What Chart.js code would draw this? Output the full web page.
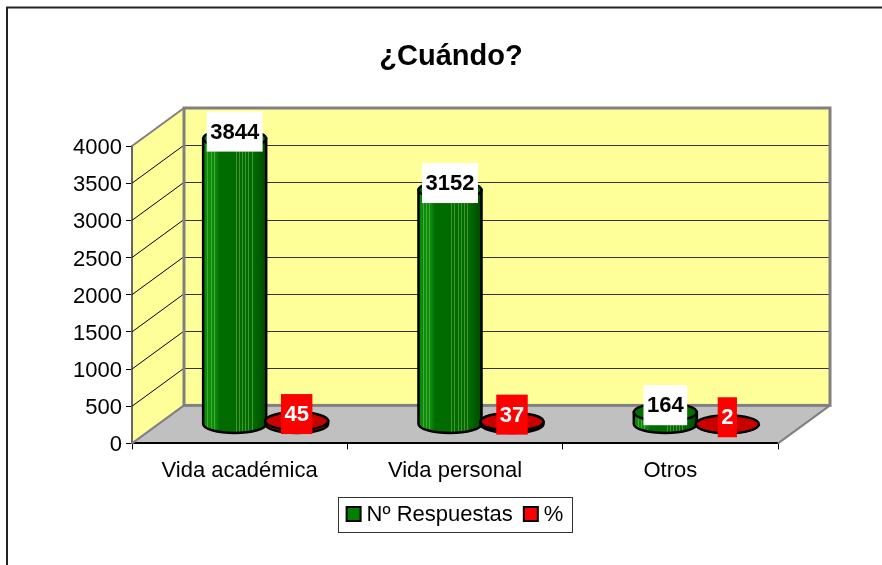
<!DOCTYPE html>
<html>
<head>
<meta charset="utf-8">
<style>
  html, body { margin: 0; padding: 0; background: #fff; overflow: hidden; }
  canvas { display: block; }
</style>
<script src="https://cdn.jsdelivr.net/npm/chart.js@4"></script>
</head>
<body>
<canvas id="myChart" width="882" height="565"></canvas>
<script>
var categories = ['Vida académica', 'Vida personal', 'Otros'];
var respuestas = [3844, 3152, 164];
var porcentajes = [45, 37, 2];
var seriesNames = ['Nº Respuestas', '%'];

var fontName = '"Liberation Sans", Arial, sans-serif';
var seriesColors = ['#008000', '#ff0000'];
var depthX = 52, depthY = 38;      // 3d depth of the box
var shiftX = 26, shiftY = 19;      // bars stand in the middle of the floor
var capRy = 9;
// pale stripes on the cylinders, as 0..1 across the bar
var stripes = [0.07, 0.12, 0.17, 0.53, 0.58, 0.63, 0.68, 0.73, 0.78];

function drawCylinder(ctx, bar, green) {
    var cx = bar.x + shiftX, top = bar.y - shiftY, base = bar.base - shiftY;
    var rx = bar.width / 2 + 0.5, left = cx - rx, right = cx + rx;
    ctx.lineWidth = 2.5;
    ctx.strokeStyle = '#000';
    // body with the rounded bottom
    ctx.beginPath();
    ctx.moveTo(left, top);
    ctx.lineTo(left, base);
    ctx.ellipse(cx, base, rx, capRy, 0, Math.PI, 0, true);
    ctx.lineTo(right, top);
    ctx.closePath();
    if (green) {
        var g = ctx.createLinearGradient(left, 0, right, 0);
        g.addColorStop(0, '#0a8c0a');
        g.addColorStop(0.2, '#0a8c0a');
        g.addColorStop(0.26, '#006c00');
        g.addColorStop(0.8, '#006c00');
        g.addColorStop(1, '#004a00');
        ctx.fillStyle = g;
    } else {
        ctx.fillStyle = seriesColors[1];
    }
    ctx.fill();
    if (green) {
        ctx.save();
        ctx.clip();
        ctx.fillStyle = 'rgba(150,200,110,0.45)';
        stripes.forEach(function (s) {
            ctx.fillRect(Math.round(left + s * bar.width), top, 1, base - top + capRy);
        });
        ctx.restore();
    }
    ctx.stroke();
    // top cap
    ctx.beginPath();
    ctx.ellipse(cx, top, rx, capRy, 0, 0, Math.PI * 2);
    ctx.fillStyle = green ? '#007000' : '#c80000';
    ctx.fill();
    ctx.stroke();
}

var box3d = {
    id: 'box3d',
    afterLayout: function (chart) {
        chart.titleBlock.left -= 4;
        chart.titleBlock.right -= 4;
    },
    beforeDraw: function (chart) {
        var ctx = chart.ctx, a = chart.chartArea;
        ctx.save();
        ctx.fillStyle = '#fff';
        ctx.fillRect(0, 0, chart.width, chart.height);
        // outer frame, open on the right and the bottom
        ctx.strokeStyle = '#222';
        ctx.lineWidth = 2;
        ctx.beginPath();
        ctx.moveTo(7, chart.height);
        ctx.lineTo(7, 7.5);
        ctx.lineTo(chart.width, 7.5);
        ctx.stroke();
        // floor
        ctx.fillStyle = '#c0c0c0';
        ctx.beginPath();
        ctx.moveTo(a.left, a.bottom);
        ctx.lineTo(a.left + depthX, a.bottom - depthY);
        ctx.lineTo(a.right + depthX, a.bottom - depthY);
        ctx.lineTo(a.right, a.bottom);
        ctx.closePath();
        ctx.fill();
        // side wall
        ctx.fillStyle = '#ffff99';
        ctx.beginPath();
        ctx.moveTo(a.left, a.bottom);
        ctx.lineTo(a.left, a.top);
        ctx.lineTo(a.left + depthX, a.top - depthY);
        ctx.lineTo(a.left + depthX, a.bottom - depthY);
        ctx.closePath();
        ctx.fill();
        // back wall
        ctx.fillRect(a.left + depthX, a.top - depthY, a.right - a.left, a.bottom - a.top);
        ctx.restore();
    },
    beforeDatasetsDraw: function (chart) {
        var ctx = chart.ctx, a = chart.chartArea, y = chart.scales.y;
        ctx.save();
        ctx.lineWidth = 1;
        y.ticks.forEach(function (t) {
            if (t.value === 0 || t.value === y.max) return;
            var py = y.getPixelForValue(t.value);
            ctx.strokeStyle = '#000';
            ctx.beginPath();
            ctx.moveTo(a.left, py);
            ctx.lineTo(a.left + depthX, py - depthY);
            ctx.stroke();
            ctx.strokeStyle = '#333';
            ctx.beginPath();
            ctx.moveTo(a.left + depthX, Math.round(py - depthY) + 0.5);
            ctx.lineTo(a.right + depthX, Math.round(py - depthY) + 0.5);
            ctx.stroke();
        });
        // gray edges of the box
        ctx.strokeStyle = '#808080';
        ctx.lineWidth = 2;
        ctx.beginPath();
        ctx.moveTo(a.left, a.top);
        ctx.lineTo(a.left + depthX, a.top - depthY);
        ctx.moveTo(a.left, a.bottom);
        ctx.lineTo(a.left + depthX, a.bottom - depthY);
        ctx.moveTo(a.right, a.bottom);
        ctx.lineTo(a.right + depthX, a.bottom - depthY);
        ctx.stroke();
        ctx.lineWidth = 3;
        ctx.strokeRect(a.left + depthX, a.top - depthY, a.right - a.left, a.bottom - a.top);
        ctx.restore();
    },
    beforeDatasetDraw: function (chart) {
        chart.ctx.save();
        chart.ctx.translate(shiftX, -shiftY);
    },
    afterDatasetDraw: function (chart) {
        chart.ctx.restore();
    },
    afterDatasetsDraw: function (chart) {
        var ctx = chart.ctx;
        ctx.save();
        // green goes first, the red disks lie over it
        [0, 1].forEach(function (i) {
            chart.getDatasetMeta(i).data.forEach(function (bar) {
                drawCylinder(ctx, bar, i === 0);
            });
        });
        ctx.font = 'bold 22px ' + fontName;
        ctx.textAlign = 'center';
        ctx.textBaseline = 'middle';
        [0, 1].forEach(function (i) {
            chart.getDatasetMeta(i).data.forEach(function (bar, n) {
                var text = String(chart.data.datasets[i].data[n]);
                var w = ctx.measureText(text).width + 7;
                var cx = bar.x + shiftX, cy = bar.y - shiftY - 7;
                ctx.fillStyle = i === 0 ? '#fff' : '#f00';
                ctx.fillRect(cx - w / 2, cy - 20, w, 40);
                ctx.fillStyle = i === 0 ? '#000' : '#fff';
                ctx.fillText(text, cx, cy + 1);
            });
        });
        ctx.restore();
    },
    afterDraw: function (chart) {
        var ctx = chart.ctx;
        ctx.save();
        ctx.strokeStyle = '#333';
        ctx.lineWidth = 1;
        ctx.strokeRect(338.5, 497.5, 234, 35);
        // legend swatches are bigger than the box the library leaves for them
        ctx.lineWidth = 2;
        ctx.strokeStyle = '#000';
        chart.legend.legendHitBoxes.forEach(function (hit, i) {
            ctx.fillStyle = seriesColors[i];
            ctx.fillRect(hit.left, 507, 14, 14);
            ctx.strokeRect(hit.left, 507, 14, 14);
        });
        ctx.restore();
    }
};

var myChart = new Chart(document.getElementById('myChart'), {
    type: 'bar',
    plugins: [box3d],
    data: {
        labels: categories,
        datasets: [
            { label: seriesNames[0], data: respuestas, backgroundColor: seriesColors[0], clip: false },
            { label: seriesNames[1], data: porcentajes, backgroundColor: seriesColors[1], clip: false }
        ]
    },
    options: {
        responsive: false,
        animation: false,
        layout: { padding: { left: 0, right: 104, top: 0, bottom: 28.6 } },
        categoryPercentage: 0.576,
        barPercentage: 1,
        scales: {
            x: {
                afterFit: function (scale) { scale.height = 50; },
                grid: { drawOnChartArea: false, tickLength: 6, color: '#000' },
                border: { color: '#000', width: 2 },
                ticks: { color: '#000', padding: 8, font: { family: fontName, size: 22 }, maxRotation: 0 }
            },
            y: {
                min: 0,
                max: 4000,
                afterFit: function (scale) { scale.width = 132; },
                grid: { drawOnChartArea: false, tickLength: 6, color: '#000' },
                border: { color: '#666', width: 2 },
                ticks: {
                    stepSize: 500,
                    color: '#000',
                    padding: 4,
                    labelOffset: 2,
                    font: { family: fontName, size: 22 },
                    callback: function (value) { return String(value); }
                }
            }
        },
        plugins: {
            title: {
                display: true,
                text: '¿Cuándo?',
                fullSize: false,
                color: '#000',
                font: { family: fontName, size: 29, weight: 'bold', lineHeight: 1.2 },
                padding: { top: 40, bottom: 71.2 }
            },
            legend: {
                display: true,
                position: 'bottom',
                fullSize: false,
                labels: {
                    color: '#000',
                    boxWidth: 9,
                    boxHeight: 9,
                    padding: 11,
                    font: { family: fontName, size: 22 }
                }
            },
            tooltip: { enabled: false }
        }
    }
});
</script>
</body>
</html>
